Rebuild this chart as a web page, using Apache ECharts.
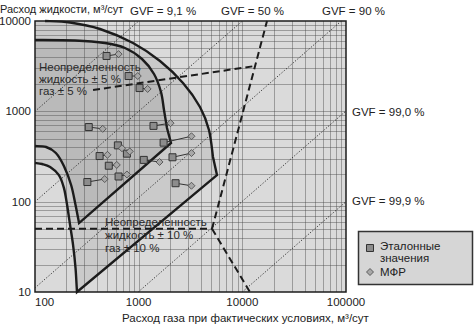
<!DOCTYPE html>
<html>
<head>
<meta charset="utf-8">
<script src="https://cdn.jsdelivr.net/npm/echarts@6/dist/echarts.min.js"></script>
<style>
  html, body { margin: 0; padding: 0; background: #fff; }
  #chart { width: 475px; height: 325px; }
</style>
</head>
<body>
<div id="chart"></div>
<script>
// Flow map: gas flow at actual conditions vs liquid flow, both m3/day, log-log.

// Reference (test-rig) values and multiphase-meter readings, [gas, liquid]
const refPoints = [[490,4100],[800,2460],[1020,1810],[330,670],[1390,690],[1740,450],[630,420],[770,340],[420,320],[1120,290],[2120,310],[515,250],[640,190],[320,165],[2270,160]];
const mfrPoints = [[640,4300],[980,2460],[1220,1770],[450,640],[2030,740],[3230,530],[690,390],[820,360],[500,330],[1590,275],[3230,345],[615,255],[770,200],[470,178],[3230,150]];

// Gas volume fraction lines, %
const gvfValues = [9.1, 50, 90, 99.0, 99.9];
const gvfLabels = ['GVF = 9,1 %', 'GVF = 50 %', 'GVF = 90 %', 'GVF = 99,0 %', 'GVF = 99,9 %'];

// Axis ranges
const gasRange = [100, 100000];
const liquidRange = [10, 10000];

// ±10 % uncertainty envelope: rounded upper corner, right edge + lower diagonal, left curve
const band10Top = [[100,10000],[125,10000]];
const band10Curve = [[125,10000],[218,9625],[424,8155],[882,5706],[1606,3607],[2677,2059],[3904,1117],[4766,621],[5212,312]];
const band10Edge = [[5212,312],[5694,197],[254,10]];
const band10Left = [[254,10],[246,18.4],[233,33],[218,55],[204,92],[190,142],[170,197],[140,242],[117,261],[100,268]];

// ±5 % uncertainty envelope
const band5Curve = [[100,6163],[243,6085],[473,5706],[738,5024],[1077,3796],[1406,2591],[1642,1637],[1755,1034],[1876,654]];
const band5Edge = [[1876,654],[2051,446],[266,58]];
const band5Left = [[266,58],[246,92],[223,153],[190,248],[159,346],[128,403],[100,413]];

// Dashed regime boundaries
const boundaryLines = [
  [[100,50],[5100,50]],
  [[5100,50],[17300,10000]],
  [[5100,50],[11850,10]],
  [[363,1722],[13250,3177]]
];

const FONT = "'Liberation Sans', Arial, Helvetica, sans-serif";
const INK = '#1c1c1c';

function gvfSegment(g) {
  const r = (100 - g) / g;
  const x0 = Math.max(gasRange[0], liquidRange[0] / r);
  const x1 = Math.min(gasRange[1], liquidRange[1] / r);
  return [[x0, x0 * r], [x1, x1 * r]];
}

// Build an SVG path through data points; smooth pieces use Catmull-Rom splines
function buildPath(api, pieces, close) {
  let d = '';
  pieces.forEach(function (pc, k) {
    const p = pc.pts.map(function (v) { return api.coord(v); });
    if (k === 0) d += 'M' + p[0][0].toFixed(2) + ' ' + p[0][1].toFixed(2);
    if (pc.smooth) {
      for (let i = 0; i < p.length - 1; i++) {
        const p0 = p[i - 1] || p[i], p1 = p[i], p2 = p[i + 1], p3 = p[i + 2] || p[i + 1];
        const c1 = [p1[0] + (p2[0] - p0[0]) / 6, p1[1] + (p2[1] - p0[1]) / 6];
        const c2 = [p2[0] - (p3[0] - p1[0]) / 6, p2[1] - (p3[1] - p1[1]) / 6];
        d += 'C' + c1[0].toFixed(2) + ' ' + c1[1].toFixed(2) + ' ' + c2[0].toFixed(2) + ' ' + c2[1].toFixed(2) + ' ' + p2[0].toFixed(2) + ' ' + p2[1].toFixed(2);
      }
    } else {
      for (let i = 1; i < p.length; i++) d += 'L' + p[i][0].toFixed(2) + ' ' + p[i][1].toFixed(2);
    }
  });
  if (close) d += 'Z';
  return d;
}

function logGridValues(lo, hi) {
  const vals = [];
  for (let dec = lo; dec < hi; dec *= 10) {
    for (let m = 1; m <= 9; m++) {
      const v = dec * m;
      if (v > lo && v < hi) vals.push(v);
    }
  }
  return vals;
}

const chart = echarts.init(document.getElementById('chart'), null, { renderer: 'svg' });

const series = [];

// Plot background, shaded envelopes and log grid
series.push({
  type: 'custom',
  z: 1,
  silent: true,
  data: [[1000, 1000]],
  renderItem: function (params, api) {
    const tl = api.coord([gasRange[0], liquidRange[1]]);
    const br = api.coord([gasRange[1], liquidRange[0]]);
    const children = [
      { type: 'rect', shape: { x: tl[0], y: tl[1], width: br[0] - tl[0], height: br[1] - tl[1] }, style: { fill: '#dadada' } },
      { type: 'path', shape: { pathData: buildPath(api, [
          { smooth: false, pts: band10Top }, { smooth: true, pts: band10Curve },
          { smooth: false, pts: band10Edge }, { smooth: true, pts: band10Left }], true) },
        style: { fill: '#cacaca' } },
      { type: 'path', shape: { pathData: buildPath(api, [
          { smooth: true, pts: band5Curve }, { smooth: false, pts: band5Edge },
          { smooth: true, pts: band5Left }], true) },
        style: { fill: '#bababa' } }
    ];
    const gridStyle = { stroke: 'rgba(70,70,70,0.42)', lineWidth: 1 };
    logGridValues(gasRange[0], gasRange[1]).forEach(function (v) {
      const x = Math.round(api.coord([v, liquidRange[0]])[0]) + 0.5;
      children.push({ type: 'line', shape: { x1: x, y1: tl[1], x2: x, y2: br[1] }, style: gridStyle });
    });
    logGridValues(liquidRange[0], liquidRange[1]).forEach(function (v) {
      const y = Math.round(api.coord([gasRange[0], v])[1]) + 0.5;
      children.push({ type: 'line', shape: { x1: tl[0], y1: y, x2: br[0], y2: y }, style: gridStyle });
    });
    children.push({ type: 'rect', shape: { x: tl[0], y: tl[1], width: br[0] - tl[0], height: br[1] - tl[1] },
      style: { fill: 'none', stroke: INK, lineWidth: 1.5 } });
    return { type: 'group', children: children };
  }
});

// GVF lines (dotted)
gvfValues.forEach(function (g) {
  series.push({
    type: 'line', z: 3, silent: true, symbol: 'none', animation: false,
    data: gvfSegment(g),
    lineStyle: { color: '#333', width: 1, type: [1.2, 1.8] }
  });
});

// Envelope outlines
series.push({
  type: 'custom',
  z: 4,
  silent: true,
  data: [[1000, 1000]],
  renderItem: function (params, api) {
    const st = { fill: 'none', stroke: INK, lineWidth: 2.4, lineJoin: 'miter' };
    return { type: 'group', children: [
      { type: 'path', shape: { pathData: buildPath(api, [
          { smooth: true, pts: band10Curve }, { smooth: false, pts: band10Edge },
          { smooth: true, pts: band10Left }], false) }, style: st },
      { type: 'path', shape: { pathData: buildPath(api, [
          { smooth: true, pts: band5Curve }, { smooth: false, pts: band5Edge },
          { smooth: true, pts: band5Left }], false) }, style: st }
    ] };
  }
});

// Dashed regime boundaries
boundaryLines.forEach(function (seg) {
  series.push({
    type: 'line', z: 4, silent: true, symbol: 'none', animation: false,
    data: seg,
    lineStyle: { color: INK, width: 2, type: [7, 4] }
  });
});

// Connectors reference -> meter reading
series.push({
  type: 'custom',
  z: 5,
  silent: true,
  data: refPoints.map(function (r, i) { return [r[0], r[1], mfrPoints[i][0], mfrPoints[i][1]]; }),
  encode: { x: [0, 2], y: [1, 3] },
  renderItem: function (params, api) {
    const a = api.coord([api.value(0), api.value(1)]);
    const b = api.coord([api.value(2), api.value(3)]);
    return { type: 'line', shape: { x1: a[0], y1: a[1], x2: b[0], y2: b[1] }, style: { stroke: '#333', lineWidth: 1 } };
  }
});

series.push({
  name: 'Эталонные значения', type: 'scatter', z: 6, symbol: 'rect', symbolSize: 7,
  data: refPoints,
  itemStyle: { color: '#8c8c8c', borderColor: '#333', borderWidth: 1, opacity: 1 }
});
series.push({
  name: 'МФР', type: 'scatter', z: 6, symbol: 'diamond', symbolSize: 7,
  data: mfrPoints,
  itemStyle: { color: '#a8a8a8', borderColor: '#444', borderWidth: 0.8, opacity: 1 }
});

const textStyle = function (s, extra) {
  return Object.assign({ text: s, fill: '#222', fontSize: 11.5, fontFamily: FONT, align: 'left', verticalAlign: 'middle' }, extra || {});
};

const gvfLabelPos = [[130, 11], [221, 11], [322, 11], [352, 112], [352, 201]];

const graphics = [
  { type: 'text', x: 0, y: 8.5, style: textStyle('Расход жидкости, м³/сут', { fontSize: 11, lineHeight: 12 }) },
  { type: 'text', x: 122, y: 318, style: textStyle('Расход газа при фактических условиях, м³/сут') },
  { type: 'text', x: 39, y: 61, z: 10, style: textStyle('Неопределенность\nжидкость ± 5 %\nгаз ± 5 %', { verticalAlign: 'top', lineHeight: 12, fill: '#2a2a2a' }) },
  { type: 'text', x: 105, y: 215.5, z: 10, style: textStyle('Неопределенность\nжидкость ± 10 %\nгаз ± 10 %', { verticalAlign: 'top', lineHeight: 13, fill: '#2a2a2a' }) },
  // legend
  { type: 'rect', shape: { x: 358.5, y: 231.5, width: 114, height: 53 }, style: { fill: '#d6d6d6', stroke: '#333', lineWidth: 1.5 } },
  { type: 'rect', shape: { x: 366.5, y: 244.5, width: 7, height: 7 }, style: { fill: '#8c8c8c', stroke: '#333', lineWidth: 1 } },
  { type: 'polygon', shape: { points: [[370, 268.5], [373.5, 272], [370, 275.5], [366.5, 272]] }, style: { fill: '#a8a8a8', stroke: '#444', lineWidth: 0.8 } },
  { type: 'text', x: 380, y: 246, style: textStyle('Эталонные') },
  { type: 'text', x: 380, y: 258, style: textStyle('значения') },
  { type: 'text', x: 380, y: 272, style: textStyle('МФР') }
];
gvfLabels.forEach(function (s, i) {
  graphics.push({ type: 'text', x: gvfLabelPos[i][0], y: gvfLabelPos[i][1], style: textStyle(s) });
});

chart.setOption({
  animation: false,
  backgroundColor: '#fff',
  grid: { left: 35, top: 21, right: 129, bottom: 33, containLabel: false, outerBoundsMode: 'none' },
  xAxis: {
    type: 'log', logBase: 10, min: gasRange[0], max: gasRange[1],
    axisLine: { show: false }, axisTick: { show: false }, splitLine: { show: false },
    axisLabel: { interval: 0, margin: 4, fontSize: 11.5, color: '#222', fontFamily: FONT, alignMinLabel: 'left',
      formatter: function (v) { return String(Math.round(v)); } }
  },
  yAxis: {
    type: 'log', logBase: 10, min: liquidRange[0], max: liquidRange[1],
    axisLine: { show: false }, axisTick: { show: false }, splitLine: { show: false },
    axisLabel: { interval: 0, margin: 4, fontSize: 11.5, lineHeight: 12, color: '#222', fontFamily: FONT,
      verticalAlignMaxLabel: 'middle',
      formatter: function (v) { return String(Math.round(v)); } }
  },
  series: series,
  graphic: graphics
});
</script>
</body>
</html>
